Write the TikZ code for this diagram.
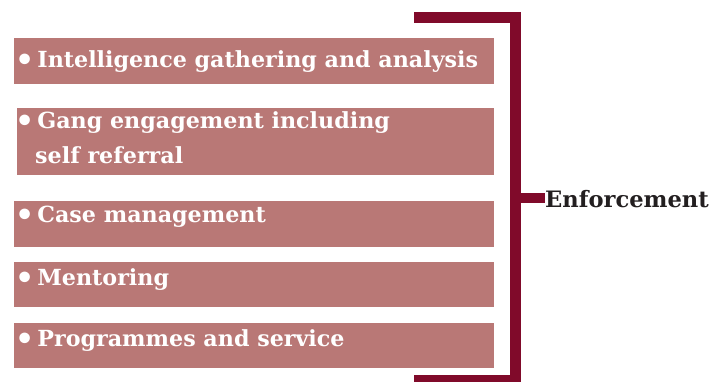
\documentclass[tikz,border=0pt]{standalone}
\usepackage{fontspec}
\setmainfont{DejaVu Serif}
\usetikzlibrary{positioning, calc}
\definecolor{rosebox}{RGB}{185,120,118}
\definecolor{bracketred}{RGB}{128,10,42}
\definecolor{inkdark}{RGB}{35,31,32}

\newcommand{\itembullet}{{\fontsize{30}{30}\selectfont\raisebox{-0.13em}{•}}\hspace{3pt}}

\begin{document}
\begin{tikzpicture}[x=1pt, y=-1pt,
    itembox/.style={fill=rosebox, draw=none, anchor=north west, inner sep=0pt,
                    minimum width=480pt, minimum height=#1},
    itemtext/.style={text=white, font=\bfseries\fontsize{22.2}{35}\selectfont,
                     anchor=base west, inner sep=0pt, align=left},
    bar/.style={draw=bracketred, line width=10.5pt}
  ]
  \useasboundingbox (0,0) rectangle (724,381);

  \node[itembox=46pt] (intel) at (14,38) {};
  \node[itembox=67pt, minimum width=477pt] (gang) at (17,108) {};
  \node[itembox=46pt] (case) at (14,201) {};
  \node[itembox=45pt] (mentor) at (14,262) {};
  \node[itembox=45pt] (prog) at (14,323) {};

  \node[itemtext] (intelt) at (15,67) {\itembullet Intelligence gathering and analysis};
  \node[itemtext] (gangt) at (15,128) {\itembullet Gang engagement including};
  \node[itemtext] (gangt2) at (35,163) {self referral};
  \node[itemtext] (caset) at (15,222) {\itembullet Case management};
  \node[itemtext] (mentort) at (15,285) {\itembullet Mentoring};
  \node[itemtext] (progt) at (15,346) {\itembullet Programmes and service};

  % bracket
  \coordinate (topend) at (414,17.25);
  \coordinate (botend) at (414,380);
  \coordinate (mid) at (515.5,198);
  \draw[bar, line join=miter] (topend) -- (topend -| mid) -- (botend -| mid) -- (botend);

  \node[font=\bfseries\fontsize{22.6}{26}\selectfont, text=inkdark, anchor=base west,
        inner sep=0pt] (enf) at (545,207) {Enforcement};
  \draw[bar] (mid) -- (enf.west |- mid);

\end{tikzpicture}
\end{document}
